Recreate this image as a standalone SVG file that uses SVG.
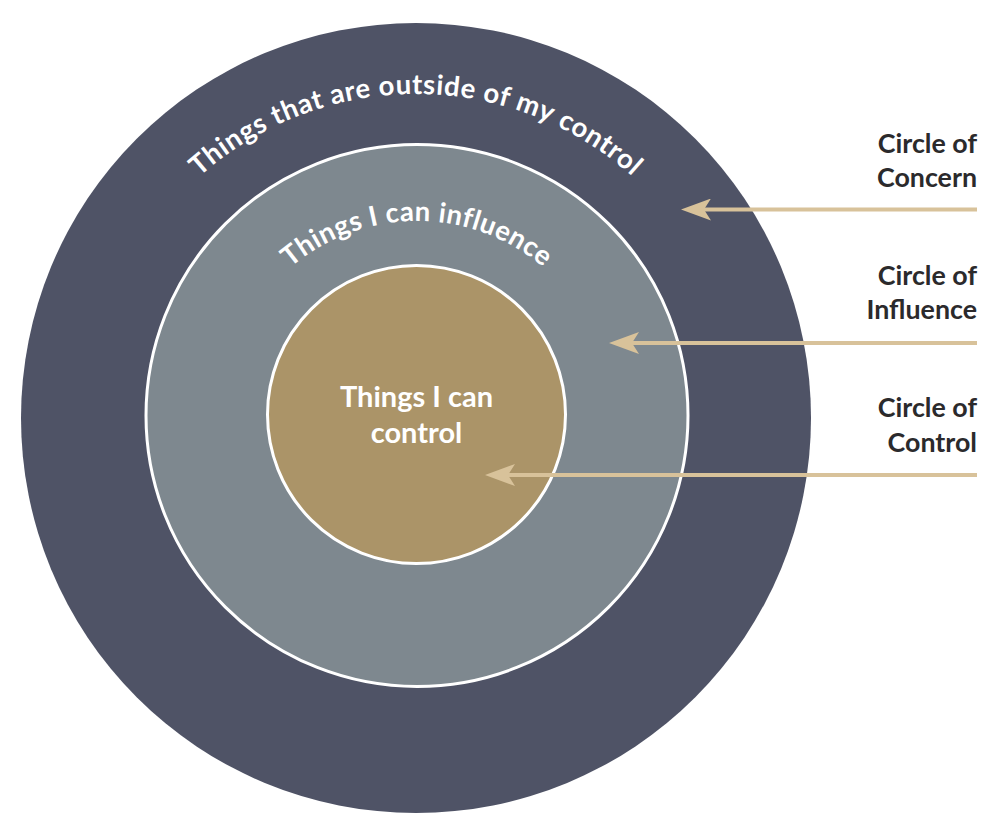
<svg xmlns="http://www.w3.org/2000/svg" width="1000" height="824" viewBox="0 0 1000 824">
<style>
.lbl{font-family:Lato,"Open Sans","Liberation Sans",sans-serif;font-weight:700;font-size:26.8px;fill:#2b2a2c;text-anchor:end}
.wt{font-family:Lato,"Open Sans","Liberation Sans",sans-serif;font-weight:700;fill:#ffffff}
.arr{stroke:#d8c29a;stroke-width:4;fill:none}
</style>
<defs>
<marker id="ah" markerUnits="userSpaceOnUse" markerWidth="30" markerHeight="22" refX="10" refY="11" orient="auto" viewBox="0 0 30 22">
<path d="M0,0 L30,11 L0,22 L7,11 Z" fill="#d8c29a"/>
</marker>
<path id="arcOuter" d="M91,419 A325,325 0 0 1 741,419"/>
<path id="arcMid" d="M222,416 A195,195 0 0 1 612,416"/>
</defs>
<rect width="1000" height="824" fill="#ffffff"/>
<g id="concern">
<circle cx="416" cy="418" r="395" fill="#4f5366"/>
<text class="wt" font-size="27.5" letter-spacing="0.7"><textPath href="#arcOuter" startOffset="50%" text-anchor="middle">Things that are outside of my control</textPath></text>
</g>
<g id="influence">
<circle cx="417" cy="415.5" r="271" fill="#7e888f" stroke="#ffffff" stroke-width="3"/>
<text class="wt" font-size="27.5" letter-spacing="0.5"><textPath href="#arcMid" startOffset="50%" text-anchor="middle">Things I can influence</textPath></text>
</g>
<g id="control">
<circle cx="416.5" cy="414.5" r="149" fill="#ab9468" stroke="#ffffff" stroke-width="3"/>
<text class="wt" font-size="29" text-anchor="middle" x="416.5" y="407">Things I can</text>
<text class="wt" font-size="29" text-anchor="middle" x="416.5" y="443">control</text>
</g>
<g id="connectors">
<line class="arr" x1="977" y1="209.5" x2="701" y2="209.5" marker-end="url(#ah)"/>
<line class="arr" x1="977" y1="343" x2="629" y2="343" marker-end="url(#ah)"/>
<line class="arr" x1="977" y1="475" x2="505" y2="475" marker-end="url(#ah)"/>
</g>
<g id="labels">
<text class="lbl" x="977" y="153">Circle of</text>
<text class="lbl" x="977" y="187">Concern</text>
<text class="lbl" x="977" y="285">Circle of</text>
<text class="lbl" x="977" y="319">Influence</text>
<text class="lbl" x="977" y="417">Circle of</text>
<text class="lbl" x="977" y="452">Control</text>
</g>
</svg>
